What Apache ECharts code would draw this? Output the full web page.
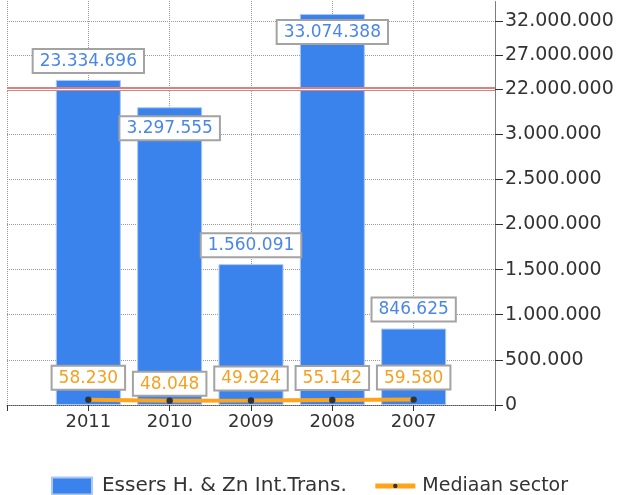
<!DOCTYPE html>
<html><head><meta charset="utf-8">
<script src="https://cdn.jsdelivr.net/npm/echarts@6/dist/echarts.min.js"></script>
<style>html,body{margin:0;padding:0;background:#fff}#c{width:619px;height:495px}</style>
</head><body><div id="c"></div>
<script>
const categories = ['2011', '2010', '2009', '2008', '2007'];
const companyValues = [23334696, 3297555, 1560091, 33074388, 846625];
const sectorMedian = [58230, 48048, 49924, 55142, 59580];
const lowerTicks = [0, 500000, 1000000, 1500000, 2000000, 2500000, 3000000];
const upperTicks = [22000000, 27000000, 32000000];
const seriesNames = ['Essers H. & Zn Int.Trans.', 'Mediaan sector'];
const lowerMax = 3500000;
const upperMin = 22000000;
const upperMax = 35000000;

const fmt = v => String(Math.round(v)).replace(/\B(?=(\d{3})+(?!\d))/g, '.');
const axisData = [''].concat(categories, ['']);
const FONT = 'DejaVu Sans';
const barLabelShift = {1: 40, 3: 37};
const lineLabelShift = {1: 5};
// small dot inside a larger (invisible) bounding box
const DOT = 'path://M0,0L0.01,0L0,0.01Z M20,20L19.99,20L20,19.99Z M10,6.8A3.2,3.2 0 1,0 10.01,6.8Z';

function boxLabel(color) {
  return {
    show: true, position: 'top', distance: 8,
    formatter: p => fmt(p.value),
    color: color, fontFamily: FONT, fontSize: 17,
    backgroundColor: '#fff', borderColor: '#a3a3a3', borderWidth: 2,
    padding: [3, 6, 2, 6]
  };
}

const lowerBarData = ['-'].concat(companyValues.map((v, i) => ({
  value: v,
  label: { show: v <= lowerMax, offset: [0, barLabelShift[i] || 0] }
})), ['-']);
const upperBarData = ['-'].concat(companyValues.map((v, i) => v > upperMin ? ({
  value: v,
  label: { show: true, offset: [0, barLabelShift[i] || 0] }
}) : '-'), ['-']);
const lineData = ['-'].concat(sectorMedian.map((v, i) => ({
  value: v,
  label: { offset: [0, lineLabelShift[i] || 0] }
})), ['-']);

const gridLine = { show: true, lineStyle: { color: '#9a9a9a', type: 'dotted', width: 1 } };

function yAxis(gridIndex, min, max, ticks) {
  return {
    type: 'value', gridIndex, position: 'right', min, max,
    axisLine: { show: true, lineStyle: { color: '#777', type: 'dotted' } },
    axisTick: { show: true, customValues: ticks, length: 8, lineStyle: { color: '#333' } },
    axisLabel: { customValues: ticks, formatter: fmt, fontFamily: FONT, fontSize: 19, color: '#333', margin: 10 },
    splitLine: gridLine
  };
}

const chart = echarts.init(document.getElementById('c'), null, { renderer: 'canvas' });
chart.setOption({
  animation: false,
  backgroundColor: '#fff',
  grid: [
    { left: 7, right: 124, top: 1, height: 88 },
    { left: 7, right: 124, top: 89, height: 316 }
  ],
  xAxis: [
    { type: 'category', gridIndex: 0, data: axisData, boundaryGap: false,
      axisLine: { show: false }, axisTick: { show: false }, axisLabel: { show: false },
      splitLine: gridLine },
    { type: 'category', gridIndex: 1, data: axisData, boundaryGap: false,
      axisLine: { show: true, lineStyle: { color: '#555', type: 'dotted' } },
      axisTick: { show: true, length: 6, lineStyle: { color: '#333' } },
      axisLabel: { fontFamily: FONT, fontSize: 18, color: '#333', margin: 8, interval: 0 },
      splitLine: gridLine }
  ],
  yAxis: [
    yAxis(0, upperMin, upperMax, upperTicks),
    yAxis(1, 0, lowerMax, lowerTicks)
  ],
  legend: {
    top: 471, left: 'center',
    data: [
      { name: seriesNames[0], icon: 'rect', textStyle: { fontSize: 20, padding: [0, 0, 0, 5] } },
      { name: seriesNames[1], textStyle: { fontSize: 19, padding: [0, 0, 0, 2] } }
    ],
    itemWidth: 40, itemHeight: 17, itemGap: 26,
    lineStyle: { width: 5 },
    textStyle: { fontFamily: FONT, fontSize: 19, color: '#333' }
  },
  series: [
    {
      name: seriesNames[0], type: 'bar', xAxisIndex: 1, yAxisIndex: 1,
      data: lowerBarData, barWidth: 65, clip: true,
      itemStyle: { color: '#3a82ec', borderColor: '#a9c8f5', borderWidth: 1 },
      label: boxLabel('#4a86e8')
    },
    {
      name: seriesNames[0], type: 'bar', xAxisIndex: 0, yAxisIndex: 0,
      data: upperBarData, barWidth: 65, clip: true,
      itemStyle: { color: '#3a82ec', borderColor: '#a9c8f5', borderWidth: 1 },
      label: boxLabel('#4a86e8'),
      markLine: {
        silent: true, symbol: 'none', label: { show: false },
        data: [
          { yAxis: upperMin, lineStyle: { color: '#d98282', width: 4, type: 'solid' } },
          { yAxis: upperMin, lineStyle: { color: '#ffffff', width: 1.2, type: 'solid' } }
        ]
      }
    },
    {
      name: seriesNames[1], type: 'line', xAxisIndex: 1, yAxisIndex: 1,
      data: lineData, z: 5,
      lineStyle: { color: '#ffa31a', width: 4 },
      itemStyle: { color: '#333' },
      symbol: DOT, symbolSize: 20, showSymbol: true,
      label: Object.assign(boxLabel('#f5a023'), { distance: 1 })
    }
  ]
});
</script>
</body></html>
